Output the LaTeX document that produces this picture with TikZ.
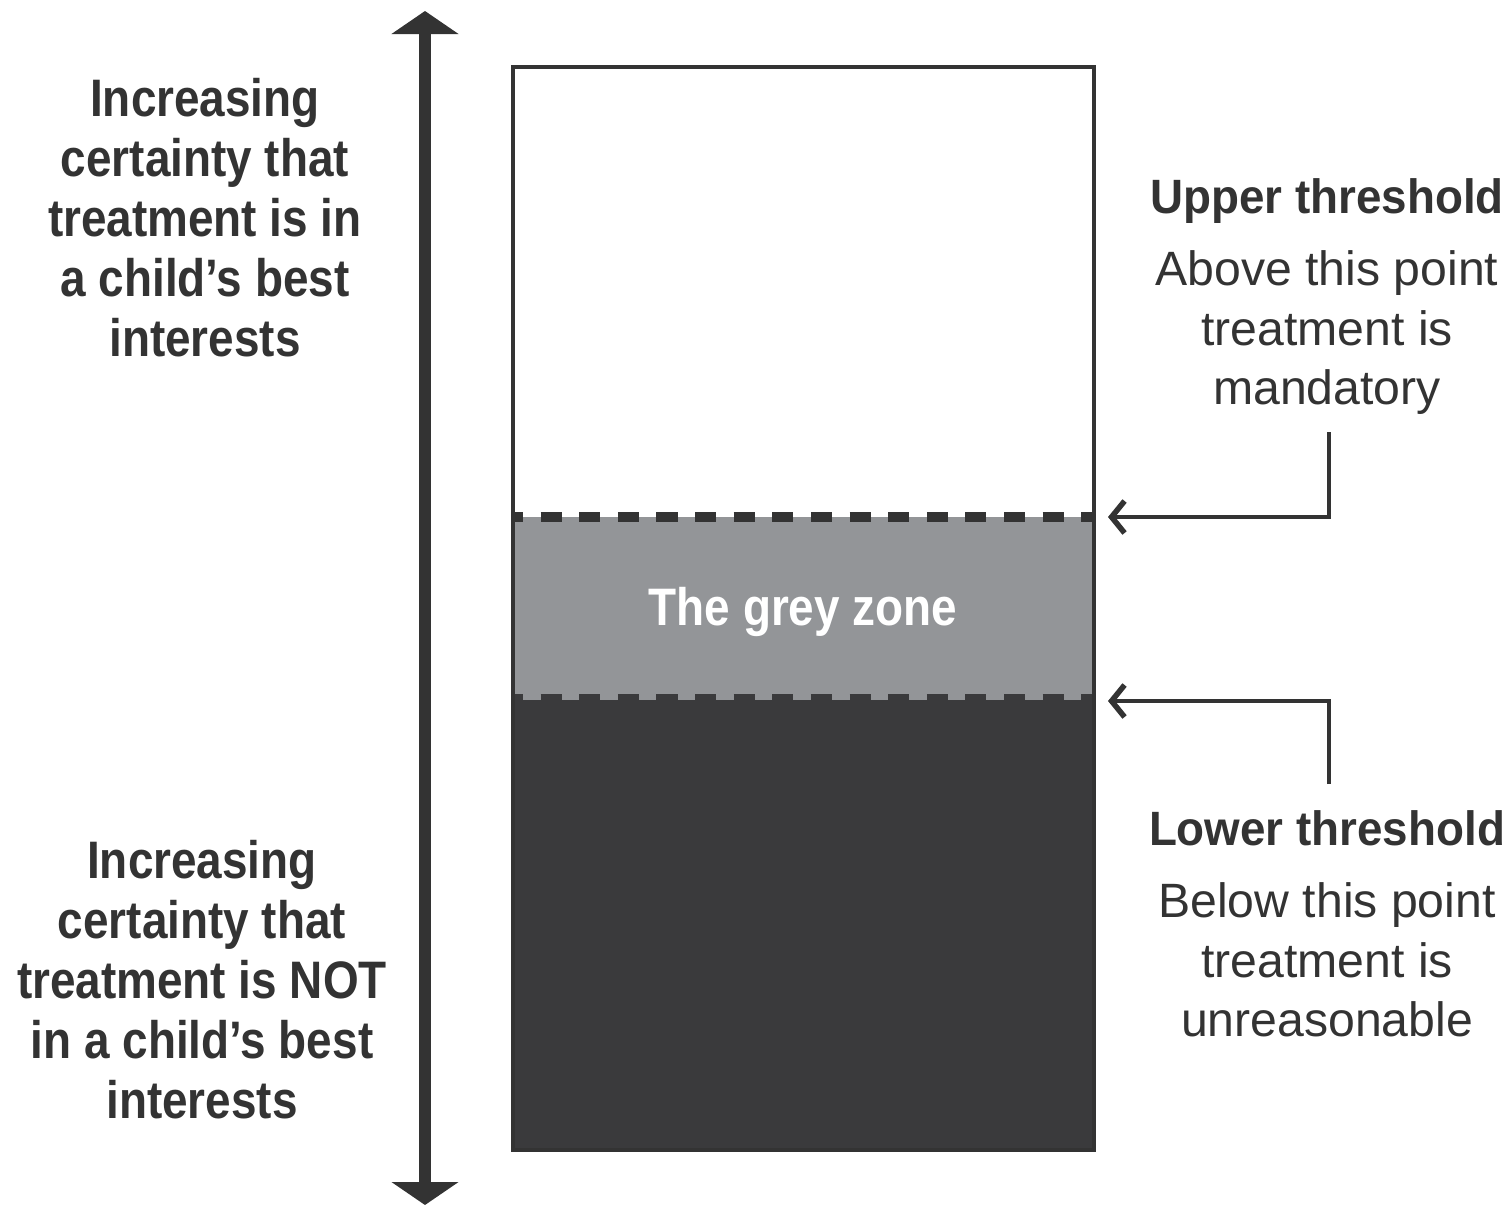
\documentclass[tikz,border=0pt]{standalone}
\usepackage{fontspec}
\setmainfont{Liberation Sans}
\newfontfamily\sidefont[FakeStretch=0.87]{Liberation Sans}
\newfontfamily\titlefont[FakeStretch=0.95]{Liberation Sans}
\usetikzlibrary{arrows.meta}
\usetikzlibrary{positioning}
\definecolor{ink}{HTML}{333333}
\definecolor{zonegrey}{HTML}{939598}
\definecolor{darkzone}{HTML}{3A3A3C}

\begin{document}
\begin{tikzpicture}[x=0.01cm,y=-0.01cm,
    sidetext/.style={text=ink,align=center,anchor=north,inner sep=0pt,
        font=\sidefont\bfseries\fontsize{15}{17}\selectfont},
    notetext/.style={text=ink,align=center,anchor=north,inner sep=0pt,
        font=\fontsize{13.7}{17}\selectfont},
    elbow/.style={draw=ink,line width=0.04cm,
        -{Straight Barb[length=0.13cm,width=0.32cm,line width=0.055cm]}}]
        \useasboundingbox (0,0) rectangle (1509,1206);

        \coordinate (arrowtop) at (425,11);
        \coordinate (arrowbottom) at (425,1205);
        \draw[ink,line width=0.12cm,{Triangle[width=0.66cm,length=0.23cm]}-{Triangle[width=0.66cm,length=0.23cm]}] (arrowtop) -- (arrowbottom);

        \fill[zonegrey] (513,517) rectangle (1094,700);
        \fill[darkzone] (513,700) rectangle (1094,1150);
        \draw[ink,line width=0.1cm,dash pattern=on 0.21cm off 0.176cm,dash phase=0.11cm] (513,517) -- (1094,517);
        \draw[darkzone,line width=0.06cm,dash pattern=on 0.21cm off 0.176cm,dash phase=0.11cm] (513,697) -- (1094,697);
        \draw[ink,line width=0.04cm] (513,67) rectangle (1094,1150);

        \node[text=white,inner sep=0pt,anchor=base,font=\sidefont\bfseries\fontsize{15}{17}\selectfont] (zone) at (803,625) {The grey zone};

        \node[sidetext] (certain) at (205,78) {Increasing\\ certainty that\\ treatment is in\\ a child’s best\\ interests};
        \node[sidetext] (notcertain) at (202,840) {Increasing\\ certainty that\\ treatment is NOT\\ in a child’s best\\ interests};

        \node[notetext] (upper) at (1327,178) {{\titlefont\bfseries Upper threshold}\\[0.12cm] Above this point\\ treatment is\\ mandatory};
        \node[notetext] (lower) at (1327,810) {{\titlefont\bfseries Lower threshold}\\[0.12cm] Below this point\\ treatment is\\ unreasonable};

        \coordinate (uppertail) at (1329,432);
        \coordinate (upperedge) at (1108,517);
        \coordinate (lowertail) at (1329,784);
        \coordinate (loweredge) at (1108,701);
        \draw[elbow] (uppertail) |- (upperedge);
        \draw[elbow] (lowertail) |- (loweredge);
    \end{tikzpicture}
\end{document}
